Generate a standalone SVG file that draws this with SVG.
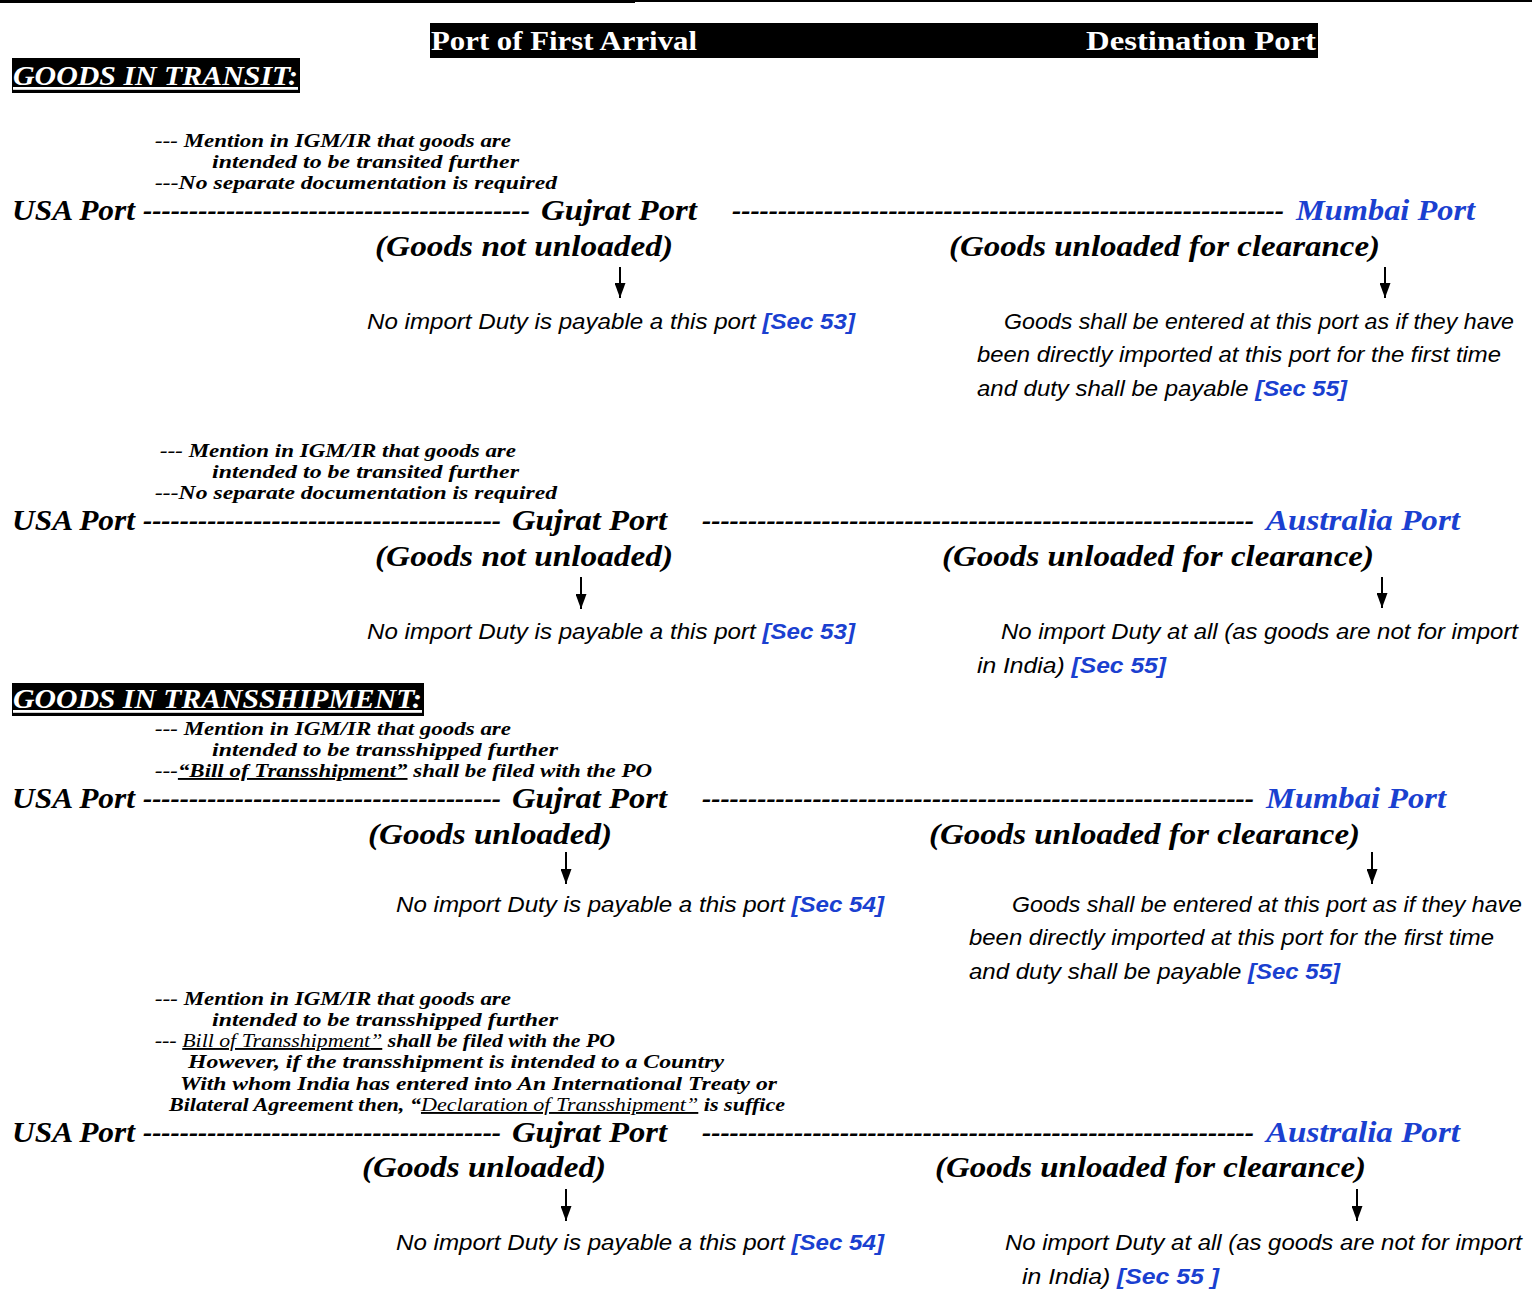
<svg xmlns="http://www.w3.org/2000/svg" width="1532" height="1307" viewBox="0 0 1532 1307">
<style>
.h{font-family:"Liberation Serif",serif;font-weight:bold;font-style:italic;font-size:29px;fill:#000}
.note{font-family:"Liberation Serif",serif;font-weight:bold;font-style:italic;font-size:19px;fill:#000}
.reg{font-weight:normal}
.body{font-family:"Liberation Sans",sans-serif;font-style:italic;font-size:22px;fill:#000}
.sec{font-weight:bold;fill:#1a40d0}
.blue{fill:#1a40d0}
.title{font-family:"Liberation Serif",serif;font-weight:bold;font-style:italic;font-size:28px;fill:#fff;text-decoration:underline}
.hdr{font-family:"Liberation Serif",serif;font-weight:bold;font-size:28px;fill:#fff}
.arrow{stroke:#000;stroke-width:2;fill:none;marker-end:url(#ah)}
</style>
<defs>
<marker id="ah" viewBox="0 0 15 11" refX="15" refY="5.5" markerWidth="15" markerHeight="11" markerUnits="userSpaceOnUse" orient="auto">
<path d="M0,0 L15,5.5 L0,11 Z" fill="#000"/>
</marker>
</defs>
<rect width="1532" height="1307" fill="#fff"/>
<rect x="0" y="0" width="635" height="3" fill="#000"/>
<rect x="635" y="0" width="897" height="2" fill="#000"/>

<g id="header">
<rect x="430" y="23" width="888" height="35" fill="#000"/>
<text class="hdr" x="431" y="50" textLength="266" lengthAdjust="spacingAndGlyphs">Port of First Arrival</text>
<text class="hdr" x="1086" y="50" textLength="230" lengthAdjust="spacingAndGlyphs">Destination Port</text>
</g>

<g id="title-transit">
<rect x="12" y="58" width="288" height="35" fill="#000"/>
<text class="title" x="13" y="85" textLength="285" lengthAdjust="spacingAndGlyphs">GOODS IN TRANSIT:</text>
</g>

<g id="transit-1">
<text class="note" x="155" y="147" textLength="356" lengthAdjust="spacingAndGlyphs">--- Mention in IGM/IR that goods are</text>
<text class="note" x="212" y="168" textLength="307" lengthAdjust="spacingAndGlyphs">intended to be transited further</text>
<text class="note" x="155" y="189" textLength="402" lengthAdjust="spacingAndGlyphs">---No separate documentation is required</text>
<text class="h" x="12" y="220" textLength="123" lengthAdjust="spacingAndGlyphs">USA Port</text>
<text class="h" x="143" y="220" textLength="387" lengthAdjust="spacingAndGlyphs">------------------------------------------</text>
<text class="h" x="541" y="220" textLength="156" lengthAdjust="spacingAndGlyphs">Gujrat Port</text>
<text class="h" x="732" y="220" textLength="552" lengthAdjust="spacingAndGlyphs">------------------------------------------------------------</text>
<text class="h blue" x="1296" y="220" textLength="179" lengthAdjust="spacingAndGlyphs">Mumbai Port</text>
<text class="h" x="375" y="256" textLength="298" lengthAdjust="spacingAndGlyphs">(Goods not unloaded)</text>
<text class="h" x="949" y="256" textLength="431" lengthAdjust="spacingAndGlyphs">(Goods unloaded for clearance)</text>
<text class="body" x="367" y="329" textLength="488" lengthAdjust="spacingAndGlyphs">No import Duty is payable a this port <tspan class="sec">[Sec 53]</tspan></text>
<text class="body" x="1004" y="329" textLength="510" lengthAdjust="spacingAndGlyphs">Goods shall be entered at this port as if they have</text>
<text class="body" x="977" y="362" textLength="524" lengthAdjust="spacingAndGlyphs">been directly imported at this port for the first time</text>
<text class="body" x="977" y="396" textLength="370" lengthAdjust="spacingAndGlyphs">and duty shall be payable <tspan class="sec">[Sec 55]</tspan></text>
</g>

<g id="transit-2">
<text class="note" x="160" y="457" textLength="356" lengthAdjust="spacingAndGlyphs">--- Mention in IGM/IR that goods are</text>
<text class="note" x="212" y="478" textLength="307" lengthAdjust="spacingAndGlyphs">intended to be transited further</text>
<text class="note" x="155" y="499" textLength="402" lengthAdjust="spacingAndGlyphs">---No separate documentation is required</text>
<text class="h" x="12" y="530" textLength="123" lengthAdjust="spacingAndGlyphs">USA Port</text>
<text class="h" x="143" y="530" textLength="358" lengthAdjust="spacingAndGlyphs">---------------------------------------</text>
<text class="h" x="512" y="530" textLength="155" lengthAdjust="spacingAndGlyphs">Gujrat Port</text>
<text class="h" x="702" y="530" textLength="552" lengthAdjust="spacingAndGlyphs">------------------------------------------------------------</text>
<text class="h blue" x="1266" y="530" textLength="194" lengthAdjust="spacingAndGlyphs">Australia Port</text>
<text class="h" x="375" y="566" textLength="298" lengthAdjust="spacingAndGlyphs">(Goods not unloaded)</text>
<text class="h" x="942" y="566" textLength="432" lengthAdjust="spacingAndGlyphs">(Goods unloaded for clearance)</text>
<text class="body" x="367" y="639" textLength="488" lengthAdjust="spacingAndGlyphs">No import Duty is payable a this port <tspan class="sec">[Sec 53]</tspan></text>
<text class="body" x="1001" y="639" textLength="517" lengthAdjust="spacingAndGlyphs">No import Duty at all (as goods are not for import</text>
<text class="body" x="977" y="673" textLength="189" lengthAdjust="spacingAndGlyphs">in India) <tspan class="sec">[Sec 55]</tspan></text>
</g>

<g id="title-transshipment">
<rect x="12" y="683" width="412" height="33" fill="#000"/>
<text class="title" x="13" y="708" textLength="409" lengthAdjust="spacingAndGlyphs">GOODS IN TRANSSHIPMENT:</text>
</g>

<g id="transship-1">
<text class="note" x="155" y="735" textLength="356" lengthAdjust="spacingAndGlyphs">--- Mention in IGM/IR that goods are</text>
<text class="note" x="212" y="756" textLength="346" lengthAdjust="spacingAndGlyphs">intended to be transshipped further</text>
<text class="note" x="155" y="777" textLength="497" lengthAdjust="spacingAndGlyphs">---<tspan text-decoration="underline">“Bill of Transshipment”</tspan> shall be filed with the PO</text>
<text class="h" x="12" y="808" textLength="123" lengthAdjust="spacingAndGlyphs">USA Port</text>
<text class="h" x="143" y="808" textLength="358" lengthAdjust="spacingAndGlyphs">---------------------------------------</text>
<text class="h" x="512" y="808" textLength="155" lengthAdjust="spacingAndGlyphs">Gujrat Port</text>
<text class="h" x="702" y="808" textLength="552" lengthAdjust="spacingAndGlyphs">------------------------------------------------------------</text>
<text class="h blue" x="1266" y="808" textLength="180" lengthAdjust="spacingAndGlyphs">Mumbai Port</text>
<text class="h" x="368" y="844" textLength="244" lengthAdjust="spacingAndGlyphs">(Goods unloaded)</text>
<text class="h" x="929" y="844" textLength="431" lengthAdjust="spacingAndGlyphs">(Goods unloaded for clearance)</text>
<text class="body" x="396" y="912" textLength="488" lengthAdjust="spacingAndGlyphs">No import Duty is payable a this port <tspan class="sec">[Sec 54]</tspan></text>
<text class="body" x="1012" y="912" textLength="510" lengthAdjust="spacingAndGlyphs">Goods shall be entered at this port as if they have</text>
<text class="body" x="969" y="945" textLength="525" lengthAdjust="spacingAndGlyphs">been directly imported at this port for the first time</text>
<text class="body" x="969" y="979" textLength="371" lengthAdjust="spacingAndGlyphs">and duty shall be payable <tspan class="sec">[Sec 55]</tspan></text>
</g>

<g id="transship-2">
<text class="note" x="155" y="1005" textLength="356" lengthAdjust="spacingAndGlyphs">--- Mention in IGM/IR that goods are</text>
<text class="note" x="212" y="1026" textLength="346" lengthAdjust="spacingAndGlyphs">intended to be transshipped further</text>
<text class="note" x="155" y="1047" textLength="460" lengthAdjust="spacingAndGlyphs">--- <tspan class="reg" text-decoration="underline">Bill of Transshipment”</tspan> shall be filed with the PO</text>
<text class="note" x="188" y="1068" textLength="536" lengthAdjust="spacingAndGlyphs">However, if the transshipment is intended to a Country</text>
<text class="note" x="180" y="1090" textLength="597" lengthAdjust="spacingAndGlyphs">With whom India has entered into An International Treaty or</text>
<text class="note" x="169" y="1111" textLength="616" lengthAdjust="spacingAndGlyphs">Bilateral Agreement then, “<tspan class="reg" text-decoration="underline">Declaration of Transshipment”</tspan> is suffice</text>
<text class="h" x="12" y="1142" textLength="123" lengthAdjust="spacingAndGlyphs">USA Port</text>
<text class="h" x="143" y="1142" textLength="358" lengthAdjust="spacingAndGlyphs">---------------------------------------</text>
<text class="h" x="512" y="1142" textLength="155" lengthAdjust="spacingAndGlyphs">Gujrat Port</text>
<text class="h" x="702" y="1142" textLength="552" lengthAdjust="spacingAndGlyphs">------------------------------------------------------------</text>
<text class="h blue" x="1266" y="1142" textLength="194" lengthAdjust="spacingAndGlyphs">Australia Port</text>
<text class="h" x="362" y="1177" textLength="244" lengthAdjust="spacingAndGlyphs">(Goods unloaded)</text>
<text class="h" x="935" y="1177" textLength="431" lengthAdjust="spacingAndGlyphs">(Goods unloaded for clearance)</text>
<text class="body" x="396" y="1250" textLength="488" lengthAdjust="spacingAndGlyphs">No import Duty is payable a this port <tspan class="sec">[Sec 54]</tspan></text>
<text class="body" x="1005" y="1250" textLength="517" lengthAdjust="spacingAndGlyphs">No import Duty at all (as goods are not for import</text>
<text class="body" x="1022" y="1284" textLength="197" lengthAdjust="spacingAndGlyphs">in India) <tspan class="sec">[Sec 55 ]</tspan></text>
</g>

<g id="connectors">
<line class="arrow" x1="620" y1="267" x2="620" y2="298"/>
<line class="arrow" x1="1385" y1="267" x2="1385" y2="298"/>
<line class="arrow" x1="581" y1="577" x2="581" y2="609"/>
<line class="arrow" x1="1382" y1="577" x2="1382" y2="608"/>
<line class="arrow" x1="566" y1="852" x2="566" y2="884"/>
<line class="arrow" x1="1372" y1="852" x2="1372" y2="884"/>
<line class="arrow" x1="566" y1="1189" x2="566" y2="1221"/>
<line class="arrow" x1="1357" y1="1189" x2="1357" y2="1221"/>
</g>
</svg>
